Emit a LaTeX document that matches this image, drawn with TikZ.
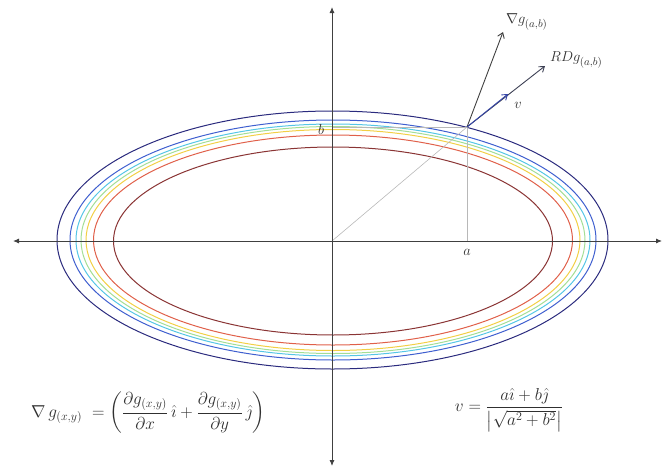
\documentclass[tikz,border=0pt]{standalone}
\usepackage{amsmath}
\usetikzlibrary{arrows.meta}
\definecolor{cnavy}{HTML}{2B2B7E}
\definecolor{cblue}{HTML}{3F5FCF}
\definecolor{ccyan}{HTML}{55C6E6}
\definecolor{cgreen}{HTML}{A4DE96}
\definecolor{cyellow}{HTML}{F2CF45}
\definecolor{cred}{HTML}{E0604A}
\definecolor{cdred}{HTML}{8A3434}
\definecolor{axisgray}{HTML}{404040}
\definecolor{guide}{HTML}{B8B8B8}
\definecolor{txt}{HTML}{303030}
\definecolor{vblue}{HTML}{3444A8}
\begin{document}
\begin{tikzpicture}[x=1pt,y=-1pt,
  axis/.style={draw=axisgray,line width=0.9pt,{Latex[length=6pt,width=5pt]}-{Latex[length=6pt,width=5pt]}},
  level/.style={line width=1pt},
  guideline/.style={draw=guide,line width=0.6pt},
  vec/.style={line width=0.9pt,-{Straight Barb[length=5pt,width=7pt]}},
  lbl/.style={text=txt,inner sep=1pt,font=\fontsize{15.5}{18}\selectfont},
  formula/.style={text=txt,inner sep=0pt}]
\useasboundingbox (0,0) rectangle (667,469);
% axes
\coordinate (xl) at (13,241);
\coordinate (xr) at (662,241);
\coordinate (yt) at (332,7);
\coordinate (yb) at (332,466);
\coordinate (O) at (332,241);
\coordinate (P) at (467,127);
\coordinate (Pa) at (467,241);
\coordinate (Pb) at (332,127);
\coordinate (G) at (503,32);
\coordinate (R) at (545,66);
\coordinate (V) at (508,94);
% level curves
\draw[level,cnavy]   (332.5,240) ellipse [x radius=275.5, y radius=129];
\draw[level,cblue]   (333,240) ellipse [x radius=263, y radius=120];
\draw[level,ccyan]   (333,240) ellipse [x radius=257, y radius=116];
\draw[level,cgreen]  (333,240) ellipse [x radius=252, y radius=113.5];
\draw[level,cyellow] (333,240) ellipse [x radius=247, y radius=110.5];
\draw[level,cred]    (333,240) ellipse [x radius=239.5, y radius=105];
\draw[level,cdred]   (333,241) ellipse [x radius=219.5, y radius=94];
% guides
\draw[guideline] (O) -- (P);
\draw[guideline] (P) -- (Pa);
\draw[guideline] (Pb) -- (P);
% axes
\draw[axis] (xl) -- (xr);
\draw[axis] (yt) -- (yb);
% vectors
\draw[vec,draw=axisgray] (P) -- (G);
\draw[vec,draw=axisgray!80!vblue] (P) -- (R);
\draw[vec,draw=vblue] (P) -- (V);
% labels
\node[lbl] (lb) at (321,129) {$b$};
\node[lbl] (la) at (467,252) {$a$};
\node[lbl,anchor=west] (lg) at (505,22) {$\nabla g_{(a,b)}$};
\node[lbl,anchor=west] (lr) at (549,60) {$RD g_{(a,b)}$};
\node[lbl] (lv) at (518,105) {$v$};
% formulas
\node[formula,font=\fontsize{17}{20}\selectfont] (f1) at (148,413) {$\nabla\, g_{(x,y)}\ = \left(\dfrac{\partial g_{(x,y)}}{\partial x}\,\hat{\imath}+\dfrac{\partial g_{(x,y)}}{\partial y}\,\hat{\jmath}\right)$};
\node[formula,font=\fontsize{18}{21}\selectfont] (f2) at (509,410) {$v=\dfrac{a\hat{\imath}+b\hat{\jmath}}{\bigl|\sqrt{a^2+b^2}\bigr|}$};
\end{tikzpicture}
\end{document}
